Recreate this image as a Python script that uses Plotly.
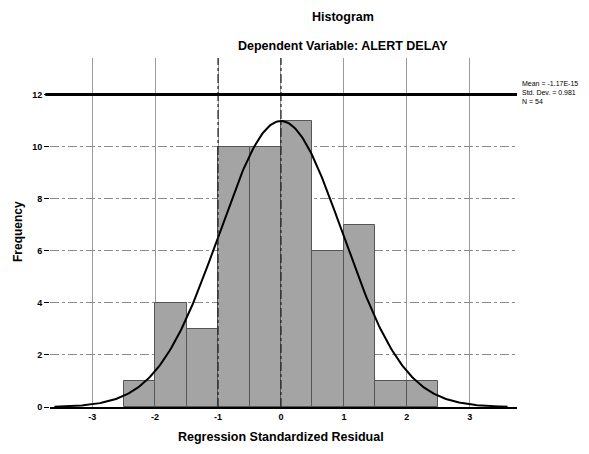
import numpy as np
import plotly.graph_objects as go

# Data
bin_left = [-2.5, -2.0, -1.5, -1.0, -0.5, 0.0, 0.5, 1.0, 1.5, 2.0]
bin_width = 0.5
counts = [1, 4, 3, 10, 10, 11, 6, 7, 1, 1]
x_ticks = [-3, -2, -1, 0, 1, 2, 3]
y_ticks = [0, 2, 4, 6, 8, 10, 12]
mean_val = 0.0
sd_val = 0.981
n_val = 54
legend_lines = ["Mean = -1.17E-15", "Std. Dev. = 0.981", "N = 54"]

centers = [b + bin_width / 2 for b in bin_left]

xs = np.linspace(-3.6, 3.6, 300)
ys = n_val * bin_width / (sd_val * np.sqrt(2 * np.pi)) * np.exp(-0.5 * ((xs - mean_val) / sd_val) ** 2)

OFF = 8  # page body margin
W, H = 589 - OFF, 454 - OFF
l, r, t, b = 42, 72, 50, 47
pw, ph = W - l - r, H - t - b


def px(xp):
    return (xp - OFF - l) / pw


def py(yp):
    return (H - b - (yp - OFF)) / ph


def bold(s):
    return "<b>" + s + "</b>"


fig = go.Figure()
fig.add_trace(go.Bar(x=centers, y=counts, width=bin_width,
                     marker=dict(color="#a4a4a4", line=dict(color="#555555", width=1)),
                     showlegend=False))
fig.add_trace(go.Scatter(x=xs, y=ys, mode="lines",
                         line=dict(color="black", width=2), showlegend=False))

for xv in [-1, 0]:
    fig.add_shape(type="line", x0=xv, x1=xv, y0=0, y1=1, xref="x", yref="y domain",
                  line=dict(color="#222222", width=1.2, dash="dashdot"))
fig.add_shape(type="line", x0=-0.01, x1=1, y0=12, y1=12, xref="x domain", yref="y",
              line=dict(color="black", width=3))

fig.update_layout(
    width=W, height=H,
    margin=dict(l=l, r=r, t=t, b=b, autoexpand=False),
    paper_bgcolor="white", plot_bgcolor="white",
    font=dict(family="Liberation Sans, Arial, sans-serif", size=11, color="black"),
    bargap=0,
    xaxis=dict(range=[-3.67, 3.75], tickvals=x_ticks, ticktext=[bold(str(v)) for v in x_ticks],
               showgrid=True, gridcolor="#9a9a9a", gridwidth=1,
               showline=True, linecolor="black", linewidth=2, zeroline=False,
               ticks="", tickfont=dict(size=9), automargin=False),
    yaxis=dict(range=[0, 13.4], tickvals=y_ticks, ticktext=[bold(str(v)) for v in y_ticks],
               showgrid=True, gridcolor="#8a8a8a", gridwidth=1, griddash="dashdot",
               showline=False, zeroline=False, ticks="outside", ticklen=5, tickcolor="black",
               tickfont=dict(size=9), automargin=False),
    annotations=[
        dict(text=bold("Histogram"), x=px(343), y=py(17), xref="paper", yref="paper",
             xanchor="center", yanchor="middle", showarrow=False, font=dict(size=12.5)),
        dict(text=bold("Dependent Variable: ALERT DELAY"), x=px(343), y=py(46), xref="paper",
             yref="paper", xanchor="center", yanchor="middle", showarrow=False,
             font=dict(size=12.5)),
        dict(text=bold("Regression Standardized Residual"), x=px(281), y=py(437), xref="paper",
             yref="paper", xanchor="center", yanchor="middle", showarrow=False,
             font=dict(size=12.5)),
        dict(text=bold("Frequency"), x=px(18), y=py(232), xref="paper", yref="paper",
             xanchor="center", yanchor="middle", showarrow=False, textangle=-90,
             font=dict(size=12)),
        dict(text="<br>".join(legend_lines), x=px(520), y=py(92),
             xref="paper", yref="paper", xanchor="left", yanchor="middle", align="left",
             showarrow=False, font=dict(size=7)),
    ],
)

fig.write_html("out.html")
